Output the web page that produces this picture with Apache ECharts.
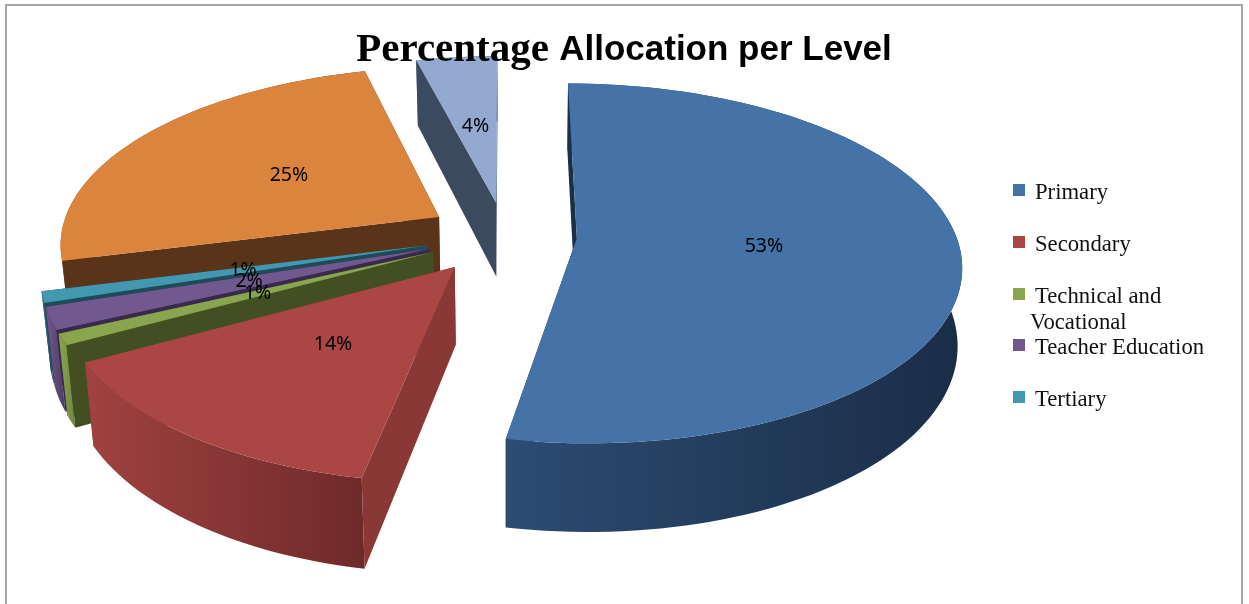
<!DOCTYPE html>
<html>
<head>
<meta charset="utf-8">
<style>
  html, body { margin: 0; padding: 0; background: #fff; }
  #chart { width: 1249px; height: 604px; }
</style>
<script src="https://cdn.jsdelivr.net/npm/echarts@6/dist/echarts.min.js"></script>
</head>
<body>
<div id="chart"></div>
<script>
// clockwise from 12 o'clock, the last two have no legend entry in the picture
var categories = ['Primary', 'Secondary', 'Technical and Vocational', 'Teacher Education', 'Tertiary', 'Other A', 'Other B'];
var percents = [53, 14, 1, 2, 1, 25, 4];
var legendLabels = ['Primary', 'Secondary', 'Technical and\nVocational', 'Teacher Education', 'Tertiary'];

var topColors = ['#4572a7', '#aa4643', '#89a54e', '#71588f', '#4198af', '#db843d', '#93a9cf'];
var wallColors = ['#1b2f49', '#8a3836', '#414f22', '#392a4d', '#1f4a58', '#5a3418', '#3b4a5f'];
var rimFrom = ['#2c4c72', '#a04240', '#89a54e', '#71588f', '#2f7486', '#a8622c', '#6f83a6'];
var rimTo = ['#1a2d47', '#6e2a29', '#6f8640', '#4d3b63', '#1f4a58', '#5a3418', '#3b4a5f'];
var explodes = [0.19, 0.22, 0.21, 0.21, 0.21, 0.205, 0.19];

// fake 3d projection fitted to the picture
var cx = 505, cy = 235, ax = 379, ay = 175.5, persp = 0.14, depth = 76;
var shrinkLeft = 0.98, shrinkRight = 0.99;

function project(angle, r, midAngle, explode, lift) {
  var X = explode * Math.sin(midAngle) + r * Math.sin(angle);
  var Y = explode * Math.cos(midAngle) + r * Math.cos(angle);
  var s = 1 / (1 + persp * Y);
  var x = cx + ax * X * s;
  var y = cy - ay * Y * s;
  if (lift) {
    // bottom of the pie runs slightly toward the vanishing point
    return [cx + (x - cx) * (x < cx ? shrinkLeft : shrinkRight), y + depth * s];
  }
  return [x, y];
}

function arcAngles(a0, a1) {
  var list = [], n = Math.max(2, Math.ceil((a1 - a0) / 0.03));
  for (var i = 0; i <= n; i++) {
    list.push(a0 + (a1 - a0) * i / n);
  }
  return list;
}

var total = percents.reduce(function (a, b) { return a + b }, 0);
var sliceData = [];
var acc = 0;
percents.forEach(function (v, i) {
  sliceData.push({ name: categories[i], value: [v, acc, acc + v, i] });
  acc += v;
});
// back slices get painted first
sliceData.reverse();

function renderSlice(params, api) {
  var a0 = api.value(1) / total * Math.PI * 2;
  var a1 = api.value(2) / total * Math.PI * 2;
  var idx = api.value(3);
  var mid = (a0 + a1) / 2;
  var ex = explodes[idx];
  var angles = arcAngles(a0, a1);

  var apexTop = project(0, 0, mid, ex, false);
  var apexLow = project(0, 0, mid, ex, true);
  var topPts = [apexTop];
  var rimUp = [], rimDown = [];
  angles.forEach(function (a) {
    var p = project(a, 1, mid, ex, false);
    topPts.push(p);
    rimUp.push(p);
    rimDown.unshift(project(a, 1, mid, ex, true));
  });
  var labelPos = project(mid, 0.49, mid, ex, false);

  function wall(a) {
    return {
      type: 'polygon',
      shape: { points: [apexTop, project(a, 1, mid, ex, false), project(a, 1, mid, ex, true), apexLow] },
      style: { fill: wallColors[idx] }
    };
  }

  var rim = {
    type: 'polygon',
    shape: { points: rimUp.concat(rimDown) },
    style: {
      fill: new echarts.graphic.LinearGradient(0, 0, 1, 0, [
        { offset: 0, color: rimFrom[idx] },
        { offset: 1, color: rimTo[idx] }
      ])
    }
  };
  // the closing wall only shows on the slice at the very back
  var sides = Math.cos(mid) > 0.9 ? [rim, wall(a1), wall(a0)] : [wall(a1), rim, wall(a0)];

  return {
    type: 'group',
    children: sides.concat([
      {
        type: 'polygon',
        shape: { points: topPts },
        style: { fill: topColors[idx] }
      },
      {
        type: 'text',
        z2: 100,
        x: labelPos[0],
        y: labelPos[1],
        style: {
          text: api.value(0) + '%',
          fill: '#000',
          font: '19.5px "Noto Sans"',
          textAlign: 'center',
          textVerticalAlign: 'middle'
        }
      }
    ])
  };
}

var legendGraphics = [];
var legendRows = [191, 243, 295, 346, 398];
legendLabels.forEach(function (label, i) {
  legendGraphics.push({
    type: 'rect',
    shape: { x: 1013, y: legendRows[i] - 7, width: 12, height: 12 },
    style: { fill: topColors[i] }
  });
  var lines = label.split('\n');
  legendGraphics.push({
    type: 'text',
    x: 1035,
    y: legendRows[i] + 2,
    style: { text: lines[0], fill: '#111', font: '22.7px "Liberation Serif"', textVerticalAlign: 'middle' }
  });
  if (lines[1]) {
    legendGraphics.push({
      type: 'text',
      x: 1030,
      y: legendRows[i] + 28,
      style: { text: lines[1], fill: '#111', font: '22.7px "Liberation Serif"', textVerticalAlign: 'middle' }
    });
  }
});

var chart = echarts.init(document.getElementById('chart'));
chart.setOption({
  animation: false,
  backgroundColor: '#fff',
  title: {
    text: '{a|Percentage }{b|Allocation per Level}',
    left: 619,
    top: 25,
    textAlign: 'center',
    z: 20,
    textStyle: {
      rich: {
        a: { fontFamily: 'Liberation Serif', fontWeight: 'bold', fontSize: 41, color: '#000' },
        b: { fontFamily: 'Liberation Sans', fontWeight: 'bold', fontSize: 35, color: '#000' }
      }
    }
  },
  graphic: [
    {
      type: 'rect',
      z: -1,
      shape: { x: 6, y: 5, width: 1236, height: 640 },
      style: { fill: 'none', stroke: '#a6a6a6', lineWidth: 2 }
    }
  ].concat(legendGraphics),
  series: [
    {
      type: 'custom',
      coordinateSystem: 'none',
      renderItem: renderSlice,
      data: sliceData,
      silent: true
    }
  ]
});
</script>
</body>
</html>
